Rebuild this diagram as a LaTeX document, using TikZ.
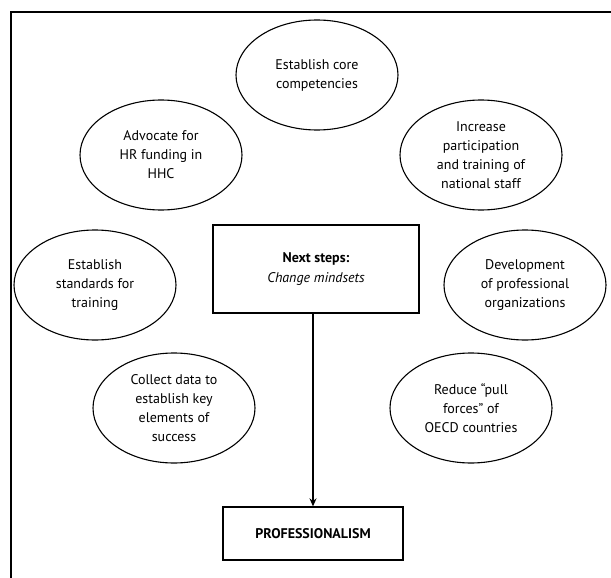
\documentclass[tikz,border=0pt]{standalone}
\usepackage{fontspec}
\setmainfont{PT Sans}
\usetikzlibrary{shapes.geometric,arrows.meta}
\tikzset{
  oval/.style={draw, ellipse, line width=1.1pt, minimum width=162pt, minimum height=110pt, inner sep=0pt, align=center, font=\fontsize{14}{19}\selectfont},
  boxnode/.style={draw, rectangle, line width=1.3pt, inner sep=0pt, align=center, font=\fontsize{14}{20}\selectfont},
  frameline/.style={line width=1.5pt},
  flow/.style={line width=1.2pt, -{Stealth[length=8pt,width=7pt]}}
}
\begin{document}
\begin{tikzpicture}[x=1pt,y=-1pt]
\useasboundingbox (0,0) rectangle (611,578);
\coordinate (fb) at (11,578);
\coordinate (fc) at (11,12);
\coordinate (fr) at (611,12);
\draw[frameline] (fb) -- (fc) -- (fr);
\node[oval] (core) at (317,75) {Establish core\\competencies};
\node[oval] (adv) at (161,155) {Advocate for\\HR funding in\\HHC};
\node[oval] (inc) at (481,155) {Increase\\participation\\and training of\\national staff};
\node[oval] (std) at (95,285) {Establish\\standards for\\training};
\node[oval] (dev) at (525,285) {Development\\of professional\\organizations};
\node[oval] (col) at (174,408) {Collect data to\\establish key\\elements of\\success};
\node[oval] (red) at (471,408) {Reduce “pull\\forces” of\\OECD countries};
\node[boxnode, minimum width=206pt, minimum height=88pt] (ns) at (316,269) {\textbf{Next steps:}\\\textit{Change mindsets}};
\node[boxnode, minimum width=180pt, minimum height=53pt] (prof) at (313,533.5) {\textbf{PROFESSIONALISM}};
\draw[flow] (prof.north |- ns.south) -- (prof.north);
\end{tikzpicture}
\end{document}
